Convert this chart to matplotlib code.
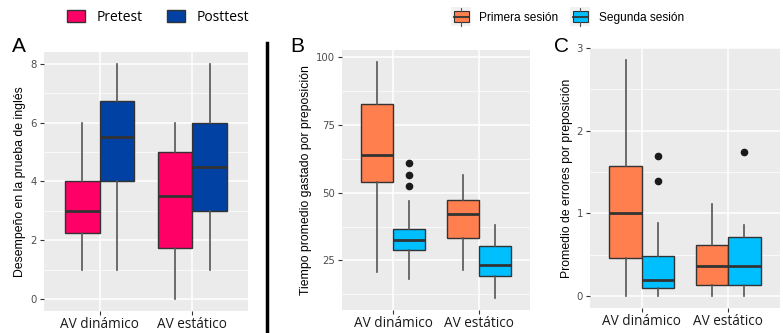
import matplotlib.pyplot as plt
from matplotlib.patches import Rectangle, Patch
from matplotlib.lines import Line2D
from matplotlib.legend_handler import HandlerBase
import numpy as np

# Datos: [bigote inf, Q1, mediana, Q3, bigote sup]
grupos = ["AV dinámico", "AV estático"]

pretest = [[1, 2.25, 3, 4, 6], [0, 1.75, 3.5, 5, 6]]
posttest = [[1, 4, 5.5, 6.75, 8], [1, 3, 4.5, 6, 8]]

tiempo_primera = [[20.8, 53.8, 63.9, 82.7, 98.3], [21.4, 33.2, 42.0, 47.3, 56.5]]
tiempo_segunda = [[18.0, 28.8, 32.4, 36.7, 47.0], [11.1, 19.3, 23.5, 30.3, 38.2]]
tiempo_out_primera = [[], []]
tiempo_out_segunda = [[52.5, 56.5, 60.8], []]

errores_primera = [[0, 0.465, 1.0, 1.57, 2.86], [0, 0.13, 0.37, 0.615, 1.12]]
errores_segunda = [[0, 0.10, 0.19, 0.49, 0.89], [0, 0.13, 0.37, 0.71, 0.86]]
errores_out_primera = [[], []]
errores_out_segunda = [[1.39, 1.69], [1.74]]

c_pre, c_post = "#FF0066", "#0041A3"
c_prim, c_seg = "#FF7F4F", "#00BFFF"


def stats(vals, outs):
    res = []
    for v, o in zip(vals, outs):
        res.append(dict(whislo=v[0], q1=v[1], med=v[2], q3=v[3], whishi=v[4], fliers=o))
    return res


def panel(ax, s1, s2, o1, o2, col1, col2, ylim, ticks, minor, ylabel):
    ax.set_facecolor("#EBEBEB")
    for sp in ax.spines.values():
        sp.set_visible(False)
    x = np.arange(1, len(grupos) + 1)
    for vals, outs, pos, col in [(s1, o1, x - 0.1875, col1), (s2, o2, x + 0.1875, col2)]:
        ax.bxp(stats(vals, outs), positions=pos, widths=0.375, patch_artist=True,
               showcaps=False,
               boxprops=dict(facecolor=col, edgecolor="#333333", linewidth=1.0),
               medianprops=dict(color="#333333", linewidth=2.0),
               whiskerprops=dict(color="#555555", linewidth=1.2),
               flierprops=dict(marker="o", markerfacecolor="#1A1A1A", markeredgecolor="#1A1A1A",
                               markersize=4.5), zorder=3)
    ax.set_xlim(0.4, 2.6)
    ax.set_ylim(*ylim)
    ax.set_yticks(ticks)
    ax.set_yticks(minor, minor=True)
    ax.set_xticks(x)
    ax.set_xticklabels(grupos, family="Open Sans", fontsize=9.8, color="#1A1A1A")
    ax.grid(True, which="major", color="white", linewidth=1.1, zorder=0)
    ax.grid(True, which="minor", color="white", linewidth=0.5, zorder=0)
    ax.set_axisbelow(True)
    ax.tick_params(axis="both", which="major", length=3, color="#333333", labelsize=7.3,
                   labelcolor="#4D4D4D", pad=2)
    ax.tick_params(axis="x", labelcolor="#1A1A1A", labelsize=9.8, pad=1)
    ax.tick_params(which="minor", length=0)
    ax.set_ylabel(ylabel, family="Liberation Sans", fontsize=8.8, labelpad=3)


class BoxKey(HandlerBase):
    def create_artists(self, legend, orig_handle, xdescent, ydescent, width, height, fontsize, trans):
        fc = orig_handle.get_facecolor()
        bg = Rectangle((-xdescent - 1, -ydescent - 3), width + 2, height + 6, facecolor="#F2F2F2",
                       edgecolor="none", transform=trans)
        rect = Rectangle((-xdescent + 1, -ydescent), width - 2, height, facecolor=fc,
                         edgecolor="#333333", linewidth=0.8, transform=trans)
        xm = -xdescent + width / 2
        med = Line2D([-xdescent + 1, -xdescent + width - 1], [-ydescent + height / 2] * 2,
                     color="#333333", linewidth=1.3, transform=trans)
        w1 = Line2D([xm, xm], [-ydescent + height, -ydescent + height + 2.5], color="#555555",
                    linewidth=0.8, transform=trans)
        w2 = Line2D([xm, xm], [-ydescent - 2.5, -ydescent], color="#555555", linewidth=0.8,
                    transform=trans)
        return [bg, rect, med, w1, w2]


fig = plt.figure(figsize=(7.83, 3.33), dpi=100)

axA = fig.add_axes([0.0562, 0.066, 0.2605, 0.778])
panel(axA, pretest, posttest, [[], []], [[], []], c_pre, c_post, (-0.4, 8.4),
      [0, 2, 4, 6, 8], [1, 3, 5, 7], "Desempeño en la prueba de inglés")

axB = fig.add_axes([0.4368, 0.069, 0.240, 0.781])
panel(axB, tiempo_primera, tiempo_segunda, tiempo_out_primera, tiempo_out_segunda,
      c_prim, c_seg, (6.7, 102.7), [25, 50, 75, 100], [12.5, 37.5, 62.5, 87.5],
      "Tiempo promedio gastado por preposición")

axC = fig.add_axes([0.7535, 0.075, 0.2427, 0.781])
panel(axC, errores_primera, errores_segunda, errores_out_primera, errores_out_segunda,
      c_prim, c_seg, (-0.143, 3.0), [0, 1, 2, 3], [0.5, 1.5, 2.5],
      "Promedio de errores por preposición")

# Letras de panel
fig.text(0.015, 0.845, "A", fontsize=15, family="Liberation Sans")
fig.text(0.371, 0.845, "B", fontsize=15, family="Liberation Sans")
fig.text(0.707, 0.845, "C", fontsize=15, family="Liberation Sans")

# Línea separadora
fig.add_artist(Line2D([0.341, 0.341], [0.0, 0.87], color="black", linewidth=2.5))

# Leyendas
fig.legend(handles=[Patch(facecolor=c_pre, edgecolor="#333333", label="Pretest"),
                    Patch(facecolor=c_post, edgecolor="#333333", label="Posttest")],
           loc="center left", bbox_to_anchor=(0.0855, 0.947), ncol=2, frameon=False,
           prop=dict(family="Open Sans", size=10), handlelength=1.3, handleheight=0.95,
           columnspacing=1.7, handletextpad=0.85, borderaxespad=0, borderpad=0)

fig.legend(handles=[Patch(facecolor=c_prim, label="Primera sesión"),
                    Patch(facecolor=c_seg, label="Segunda sesión")],
           handler_map={Patch: BoxKey()},
           loc="center left", bbox_to_anchor=(0.578, 0.947), ncol=2, frameon=False,
           prop=dict(family="Liberation Sans", size=8.6), handlelength=1.45, handleheight=1.0,
           columnspacing=1.1, handletextpad=0.8, borderaxespad=0, borderpad=0)

fig.savefig("out.png", dpi=100)
